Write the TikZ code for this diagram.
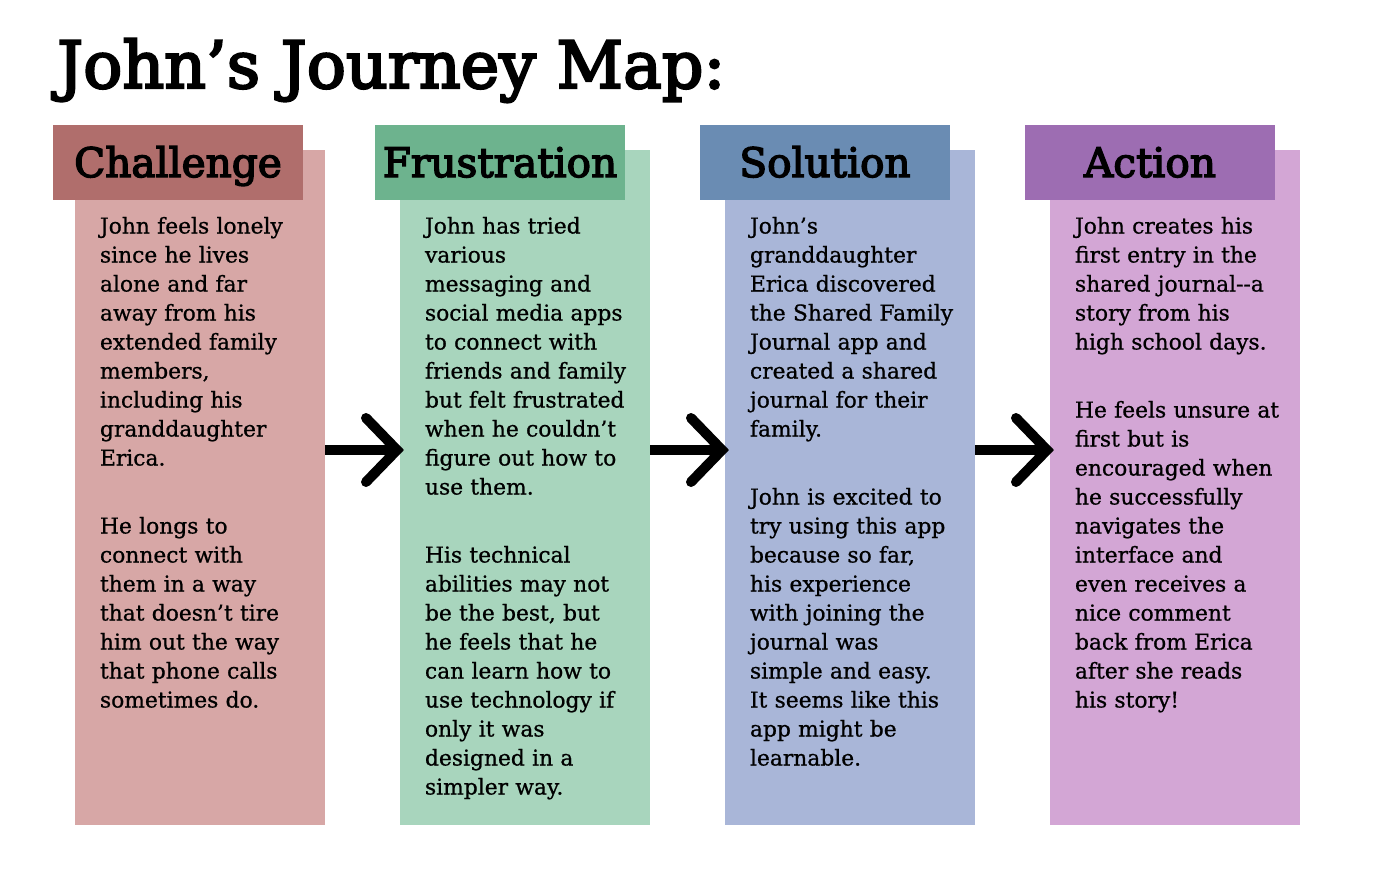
\documentclass[tikz,border=0pt]{standalone}
\usepackage{fontspec}
\usetikzlibrary{calc}
\setmainfont{DejaVu Serif}[FakeBold=0.8]
\newfontfamily\headfont{DejaVu Serif}[FakeBold=3.5]
\definecolor{chH}{HTML}{B06E6C}
\definecolor{chB}{HTML}{D7A7A6}
\definecolor{frH}{HTML}{6DB38E}
\definecolor{frB}{HTML}{A8D5BD}
\definecolor{soH}{HTML}{6A8CB3}
\definecolor{soB}{HTML}{A9B6D8}
\definecolor{acH}{HTML}{9D6DB2}
\definecolor{acB}{HTML}{D3A6D5}
\begin{document}
\begin{tikzpicture}[x=1pt,y=-1pt,
  hdr/.style={minimum width=250pt, minimum height=75pt, inner sep=0pt, outer sep=0pt,
    text height=29pt, text depth=0pt, font=\headfont\fontsize{40.6}{48}\selectfont, text=black},
  bodybox/.style={minimum width=250pt, minimum height=675pt, inner sep=0pt, outer sep=0pt},
  bodytext/.style={anchor=base west, inner sep=0pt, outer sep=0pt, text width=240pt, align=left,
    font=\fontsize{21.8}{29}\selectfont},
  titletext/.style={anchor=base west, inner sep=0pt, font=\headfont\fontsize{65}{70}\selectfont},
  shaft/.style={line width=10pt, line cap=butt},
  chev/.style={line width=10pt, line cap=round, line join=miter},
]
\useasboundingbox[fill=white] (0,0) rectangle (1375,875);

\node[titletext] (title) at (57,88) {John’s Journey Map:};

% body boxes
\node[bodybox, fill=chB] (chb) at (200,487.5) {};
\node[bodybox, fill=frB] (frb) at (525,487.5) {};
\node[bodybox, fill=soB] (sob) at (850,487.5) {};
\node[bodybox, fill=acB] (acb) at (1175,487.5) {};

% header boxes
\node[hdr, fill=chH] (chh) at (178,162.5) {Challenge};
\node[hdr, fill=frH] (frh) at (500,162.5) {Frustration};
\node[hdr, fill=soH] (soh) at (825,162.5) {Solution};
\node[hdr, fill=acH] (ach) at (1150,162.5) {Action};

% texts
\node[bodytext] (cht) at (100,233.5) {John feels lonely\\ since he lives\\ alone and far\\ away from his\\ extended family\\ members,\\ including his\\ granddaughter\\ Erica.\\[39pt]
He longs to\\ connect with\\ them in a way\\ that doesn’t tire\\ him out the way\\ that phone calls\\ sometimes do.};

\node[bodytext] (frt) at (425,233.5) {John has tried\\ various\\ messaging and\\ social media apps\\ to connect with\\ friends and family\\ but felt frustrated\\ when he couldn’t\\ figure out how to\\ use them.\\[39pt]
His technical\\ abilities may not\\ be the best, but\\ he feels that he\\ can learn how to\\ use technology if\\ only it was\\ designed in a\\ simpler way.};

\node[bodytext] (sot) at (750,233.5) {John’s\\ granddaughter\\ Erica discovered\\ the Shared Family\\ Journal app and\\ created a shared\\ journal for their\\ family.\\[39pt]
John is excited to\\ try using this app\\ because so far,\\ his experience\\ with joining the\\ journal was\\ simple and easy.\\ It seems like this\\ app might be\\ learnable.};

\node[bodytext] (act) at (1075,233.5) {John creates his\\ first entry in the\\ shared journal-{}-a\\ story from his\\ high school days.\\[39pt]
He feels unsure at\\ first but is\\ encouraged when\\ he successfully\\ navigates the\\ interface and\\ even receives a\\ nice comment\\ back from Erica\\ after she reads\\ his story!};

% arrows
\coordinate (t1) at (397,450);
\coordinate (t2) at (722,450);
\coordinate (t3) at (1047,450);
\foreach \a/\t in {chb/t1, frb/t2, sob/t3}{
  \draw[shaft] (\a.east |- \t) -- (\t);
  \draw[chev] ($(\t)+(-31,-32)$) -- (\t) -- ($(\t)+(-31,32)$);
}
\end{tikzpicture}
\end{document}
